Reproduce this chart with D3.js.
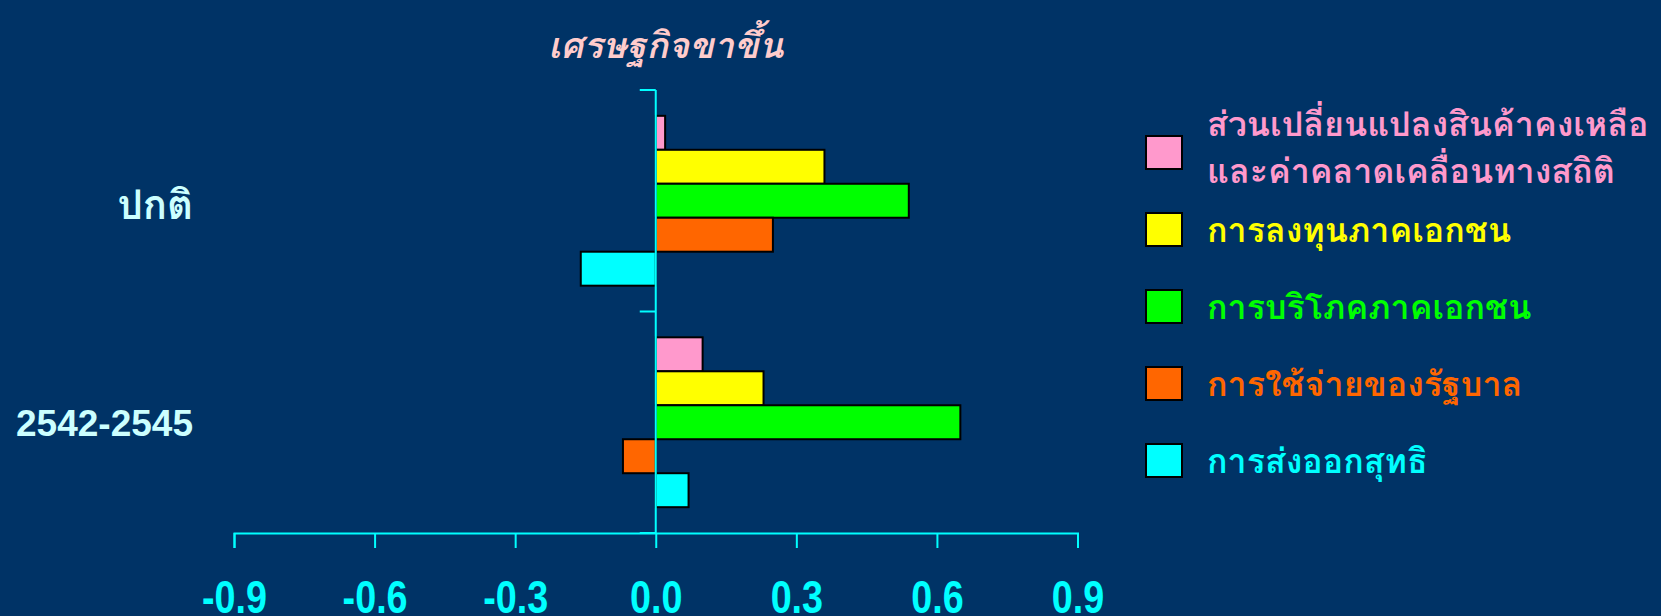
<!DOCTYPE html>
<html>
<head>
<meta charset="utf-8">
<script src="https://cdn.jsdelivr.net/npm/d3@7"></script>
<style>
  html, body { margin: 0; padding: 0; background: #003366; }
  svg { display: block; }
  .thai { font-family: "Tahoma", "Loma", "Noto Sans Thai", "Garuda", "Norasi", "Noto Sans", sans-serif; }
</style>
</head>
<body>
<script>
// Contribution to GDP growth by component, two periods
const categories = ["ปกติ", "2542-2545"];
const seriesNames = [
  "ส่วนเปลี่ยนแปลงสินค้าคงเหลือ|และค่าคลาดเคลื่อนทางสถิติ",
  "การลงทุนภาคเอกชน",
  "การบริโภคภาคเอกชน",
  "การใช้จ่ายของรัฐบาล",
  "การส่งออกสุทธิ"
];
const seriesColors = ["#FF99CC", "#FFFF00", "#00FF00", "#FF6600", "#00FFFF"];
const valuesNormal = [0.02, 0.36, 0.54, 0.25, -0.16];
const valuesCrisis = [0.10, 0.23, 0.65, -0.07, 0.07];
const xTicks = [-0.9, -0.6, -0.3, 0.0, 0.3, 0.6, 0.9];
const title = "เศรษฐกิจขาขึ้น";

const W = 1661, H = 616;
const svg = d3.select("body").append("svg").attr("width", W).attr("height", H);
svg.append("rect").attr("width", W).attr("height", H).attr("fill", "#003366");

const axisColor = "#00FFFF";

const x = d3.scaleLinear().domain([-0.9, 0.9]).range([234, 1077.5]);
const y = d3.scaleBand().domain(categories).range([90, 533]).paddingInner(0).paddingOuter(0);
const ySub = d3.scaleBand().domain(d3.range(seriesNames.length))
  .range([0, y.bandwidth()]).paddingInner(0).paddingOuter(0.76);

const rows = [valuesNormal, valuesCrisis];
const data = [];
categories.forEach((c, ci) => rows[ci].forEach((v, si) => data.push({ c, si, v })));

// bars
svg.append("g").selectAll("rect").data(data).join("rect")
  .attr("x", d => x(Math.min(0, d.v)))
  .attr("width", d => Math.abs(x(d.v) - x(0)))
  .attr("y", d => y(d.c) + ySub(d.si))
  .attr("height", ySub.bandwidth())
  .attr("fill", d => seriesColors[d.si])
  .attr("stroke", "#000")
  .attr("stroke-width", 2);

// horizontal value axis (plain hyphen for negatives)
const xAxis = d3.axisBottom(x).tickValues(xTicks).tickFormat(d => d.toFixed(1))
  .tickSize(15);
const gx = svg.append("g").attr("transform", `translate(0,${y.range()[1]})`).call(xAxis);
gx.select(".domain").attr("stroke", axisColor).attr("stroke-width", 2);
gx.selectAll(".tick line").attr("stroke", axisColor).attr("stroke-width", 2);
gx.selectAll(".tick text")
  .attr("fill", axisColor)
  .attr("font-family", "'Liberation Sans', Arial, sans-serif")
  .attr("font-weight", "bold")
  .attr("font-size", 46)
  .attr("y", 80)
  .attr("dy", 0)
  .attr("transform", "scale(0.82,1)");

// vertical category axis at zero
const yEdges = [...categories.map(c => y(c)), y.range()[1]];
const gy = svg.append("g");
gy.append("line")
  .attr("x1", x(0)).attr("x2", x(0))
  .attr("y1", y.range()[0]).attr("y2", y.range()[1])
  .attr("stroke", axisColor).attr("stroke-width", 2);
gy.selectAll("line.tk").data(yEdges).join("line").attr("class", "tk")
  .attr("x1", x(0) - 16).attr("x2", x(0))
  .attr("y1", d => d).attr("y2", d => d)
  .attr("stroke", axisColor).attr("stroke-width", 2);

// category labels
svg.append("g").selectAll("text").data(categories).join("text")
  .attr("class", (d, i) => i === 0 ? "thai" : null)
  .attr("x", 193)
  .attr("y", d => y(d) + y.bandwidth() / 2)
  .attr("dy", (d, i) => i === 0 ? "0.45em" : "0.36em")
  .attr("text-anchor", "end")
  .attr("fill", "#CCFFFF")
  .attr("font-family", (d, i) => i === 0 ? null : "'Liberation Sans', Arial, sans-serif")
  .attr("font-weight", "bold")
  .attr("font-size", (d, i) => i === 0 ? 40 : 37)
  .text(d => d);

// title
svg.append("text").attr("class", "thai")
  .attr("x", 666).attr("y", 58)
  .attr("text-anchor", "middle")
  .attr("fill", "#FFCCCC")
  .attr("font-style", "italic")
  .attr("font-weight", "bold")
  .attr("font-size", 36)
  .text(title);

// legend
const legTop = 136, legStep = 77;
const leg = svg.append("g").selectAll("g").data(seriesNames).join("g")
  .attr("transform", (d, i) => `translate(1146,${legTop + i * legStep})`);
leg.append("rect")
  .attr("width", 36).attr("height", 33)
  .attr("fill", (d, i) => seriesColors[i])
  .attr("stroke", "#000").attr("stroke-width", 2);
leg.append("text").attr("class", "thai")
  .attr("x", 61)
  .attr("fill", (d, i) => seriesColors[i])
  .attr("font-weight", "bold")
  .attr("font-size", 34)
  .each(function (d) {
    const lines = d.split("|");
    const t = d3.select(this);
    const base = lines.length > 1 ? 0 : 29;
    lines.forEach((ln, k) => t.append("tspan").attr("x", 61).attr("y", base + k * 47).text(ln));
  });
</script>
</body>
</html>
